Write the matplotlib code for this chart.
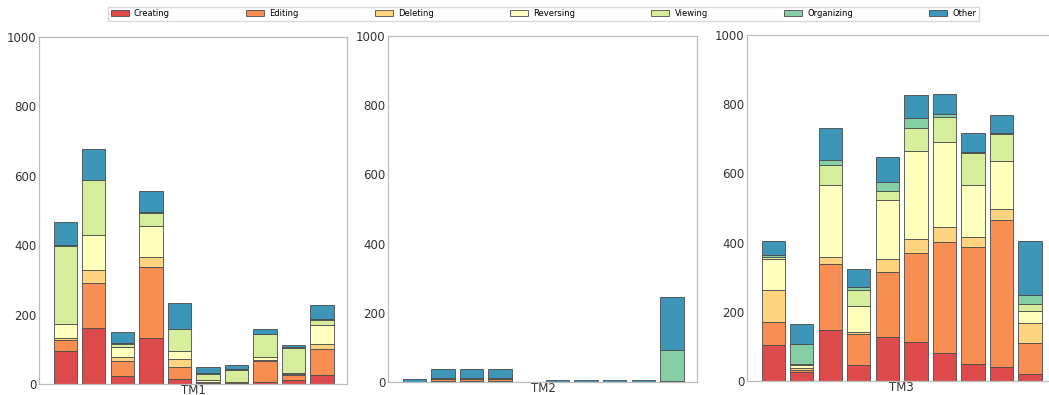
import numpy as np
import matplotlib
matplotlib.use("Agg")
import matplotlib.pyplot as plt
from matplotlib.patches import Patch

plt.rcParams['font.family'] = ['DejaVu Sans']

activities = ["Creating", "Editing", "Deleting", "Reversing", "Viewing", "Organizing", "Other"]
panels = ["TM1", "TM2", "TM3"]

# counts per participant (10 bars per panel), one list per activity
tm1 = {
    "Creating":   [94, 161, 24, 132, 14, 2, 2, 5, 13, 27],
    "Editing":    [32, 129, 43, 205, 34, 3, 3, 61, 12, 73],
    "Deleting":   [8, 40, 10, 28, 23, 2, 1, 3, 4, 14],
    "Reversing":  [40, 99, 29, 89, 25, 4, 1, 8, 2, 57],
    "Viewing":    [224, 159, 9, 39, 62, 19, 34, 66, 74, 14],
    "Organizing": [4, 1, 2, 3, 1, 1, 1, 1, 1, 2],
    "Other":      [66, 88, 34, 61, 74, 19, 12, 14, 7, 40],
}
tm2 = {
    "Creating":   [0, 3, 3, 3, 0, 0, 0, 0, 0, 2],
    "Editing":    [0, 5, 5, 5, 0, 0, 0, 0, 0, 1],
    "Deleting":   [0, 1, 1, 1, 0, 0, 0, 0, 0, 0],
    "Reversing":  [0, 1, 1, 1, 0, 0, 0, 0, 0, 0],
    "Viewing":    [0, 0, 0, 0, 0, 0, 0, 0, 0, 0],
    "Organizing": [0, 1, 1, 1, 0, 0, 0, 0, 0, 90],
    "Other":      [8, 27, 27, 27, 1, 5, 6, 6, 6, 152],
}
tm3 = {
    "Creating":   [104, 25, 148, 45, 127, 113, 81, 49, 41, 20],
    "Editing":    [66, 8, 190, 90, 189, 258, 321, 339, 424, 90],
    "Deleting":   [92, 5, 21, 8, 36, 38, 44, 27, 31, 59],
    "Reversing":  [90, 8, 208, 73, 170, 256, 244, 152, 141, 34],
    "Viewing":    [6, 2, 58, 48, 26, 67, 72, 93, 76, 20],
    "Organizing": [5, 58, 13, 7, 26, 28, 9, 2, 4, 27],
    "Other":      [42, 60, 93, 54, 73, 66, 58, 55, 51, 155],
}
panel_data = [tm1, tm2, tm3]

cmap = plt.get_cmap("Spectral")
colors = [cmap(v) for v in np.linspace(0, 1, len(activities) + 2)[1:-1]]

fig = plt.figure(figsize=(10.49, 3.95), dpi=100)
axes_pos = [
    [0.0372, 0.0278, 0.2936, 0.8785],
    [0.3699, 0.0329, 0.2946, 0.8760],
    [0.7121, 0.0354, 0.2936, 0.8760],
]

for pos, name, data in zip(axes_pos, panels, panel_data):
    ax = fig.add_axes(pos)
    x = np.arange(len(data["Other"]))
    bottom = np.zeros(len(x))
    for act, col in zip(activities, colors):
        vals = np.array(data[act], dtype=float)
        ax.bar(x, vals, bottom=bottom, width=0.82, color=col,
               edgecolor="#4a4a4a", linewidth=0.6)
        bottom += vals
    ax.set_ylim(0, 1000)
    ax.set_xlim(-0.92, 9.88)
    ax.set_yticks([0, 200, 400, 600, 800, 1000])
    ax.set_xticks([4.5])
    ax.set_xticklabels([name])
    ax.tick_params(axis="both", length=0, labelsize=8.5, labelcolor="#333333")
    ax.tick_params(axis="y", pad=2)
    ax.tick_params(axis="x", pad=0)
    for sp in ax.spines.values():
        sp.set_color("#bdbdbd")
        sp.set_linewidth(0.9)

handles = [Patch(facecolor=c, edgecolor="#4a4a4a", linewidth=0.6, label=a)
           for a, c in zip(activities, colors)]
fig.legend(handles=handles, loc="lower left", ncol=7, mode="expand",
           bbox_to_anchor=(0.103, 0.948, 0.830, 0.04), fontsize=6,
           frameon=True, edgecolor="#d0d0d0", fancybox=False,
           handlelength=2.2, handleheight=0.8, handletextpad=0.6,
           borderpad=0.3, borderaxespad=0.0)

fig.savefig("out.png", dpi=100)
